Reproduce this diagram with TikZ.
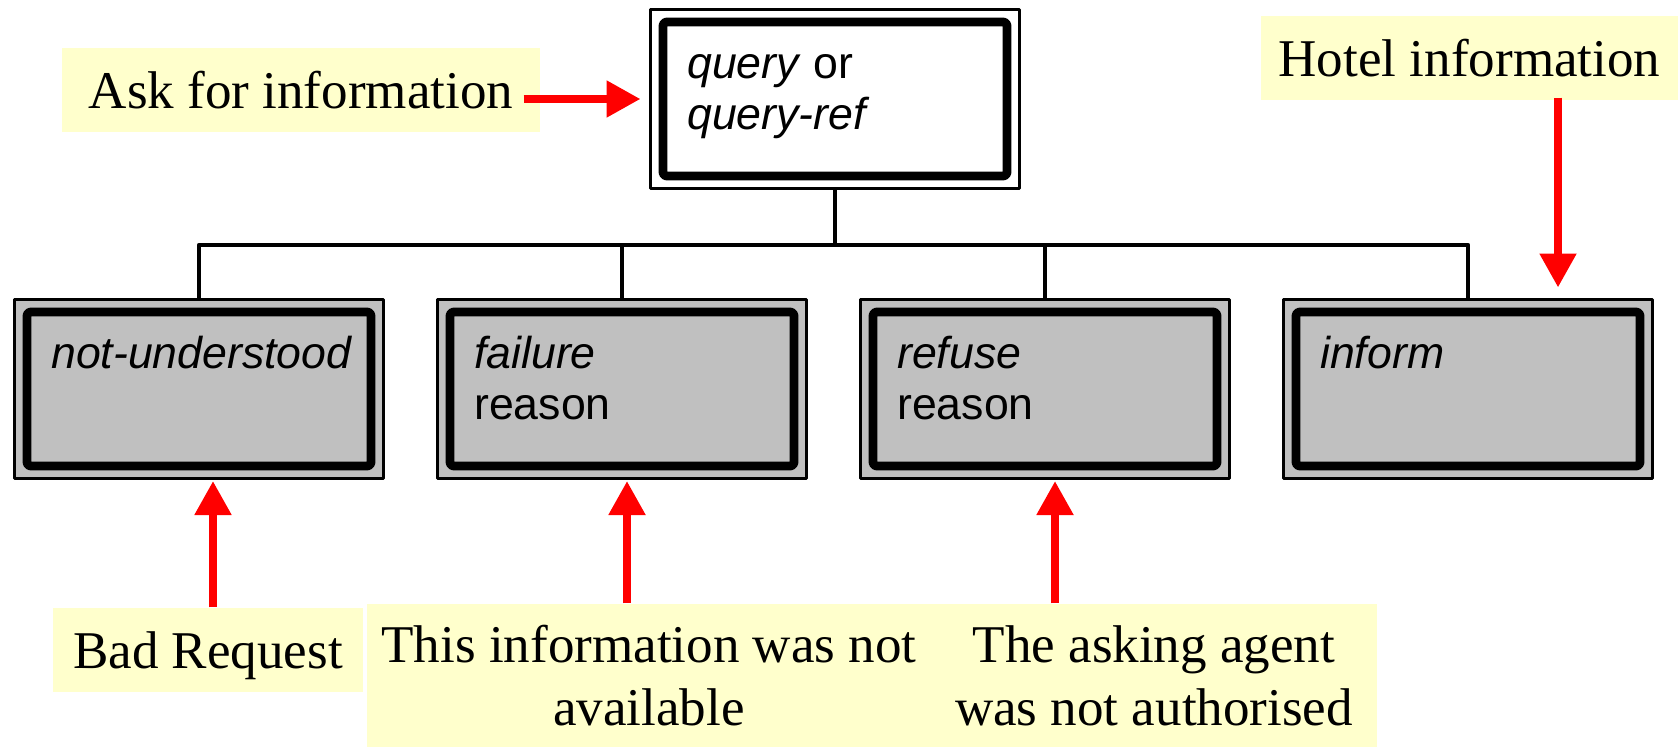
\documentclass[tikz,border=0pt]{standalone}
\usepackage{fontspec}
\setmainfont{Liberation Serif}
\setsansfont{Liberation Sans}
\usetikzlibrary{arrows.meta}
\definecolor{boxgray}{HTML}{C0C0C0}
\definecolor{notey}{HTML}{FFFFCC}
\tikzset{
  act/.style={draw,line width=1pt,outer sep=0pt,inner sep=0pt,minimum width=3.69cm,minimum height=1.79cm,fill=boxgray},
  acttext/.style={anchor=north west,inner sep=0pt,align=left,font=\sffamily\fontsize{12.7}{14.5}\selectfont},
  note/.style={fill=notey,inner sep=0pt,align=center,text depth=0pt,minimum height=0.84cm,font=\fontsize{15.1}{17.9}\selectfont},
  hint/.style={red,line width=2.3pt,-{Triangle[length=3.4mm,width=3.5mm]}},
  tree/.style={line width=1.2pt}
}
\begin{document}
\begin{tikzpicture}[line join=round]
\useasboundingbox (0,0) rectangle (16.78,7.47);
\node[act,fill=white] (query) at (8.35,6.48) {};
\node[act] (nu) at (1.99,3.58) {};
\node[act] (fail) at (6.22,3.58) {};
\node[act] (ref) at (10.45,3.58) {};
\node[act] (inf) at (14.68,3.58) {};
\foreach \b in {query,nu,fail,ref,inf}
  \draw[line width=2.5pt,rounded corners=1pt] ([shift={(1.25mm,-1.25mm)}]\b.north west) rectangle ([shift={(-1.25mm,1.25mm)}]\b.south east);
\node[acttext] (query-t) at ([shift={(0.36,-0.33)}]query.north west) {\strut\textit{query} or\\\textit{query-ref}};
\node[acttext] (nu-t) at ([shift={(0.36,-0.33)}]nu.north west) {\strut\textit{not-understood}};
\node[acttext] (fail-t) at ([shift={(0.36,-0.33)}]fail.north west) {\strut\textit{failure}\\reason};
\node[acttext] (ref-t) at ([shift={(0.36,-0.33)}]ref.north west) {\strut\textit{refuse}\\reason};
\node[acttext] (inf-t) at ([shift={(0.36,-0.33)}]inf.north west) {\strut\textit{inform}};
\coordinate (bar) at (0,5.02);
\draw[tree] (query.south) -- (query.south |- bar);
\foreach \b in {nu,fail,ref,inf}
  \draw[tree] (query.south |- bar) -| (\b.north);
\node[note,minimum width=4.78cm] (ask) at (3.01,6.57) {Ask for information};
\node[note,minimum width=4.17cm] (hotel) at (14.695,6.89) {Hotel information};
\node[note,minimum width=3.10cm] (bad) at (2.08,0.97) {Bad Request};
\node[note,minimum width=5.64cm,minimum height=1.43cm] (avail) at (6.49,0.715) {This information was not\\available};
\node[note,minimum width=4.46cm,minimum height=1.43cm] (auth) at (11.54,0.715) {The asking agent\\was not authorised};
\draw[hint] ([xshift=-1.7mm]query.west -| ask.east) -- ([xshift=-1mm]query.west);
\coordinate (hin) at ([xshift=9mm,yshift=1.2mm]inf.north);
\draw[hint] ([yshift=0.3mm]hotel.south -| hin) -- (hin);
\foreach \b/\n/\s in {nu/bad/1.4mm,fail/avail/0.5mm,ref/auth/1mm}
  \draw[hint] ([xshift=\s]\b.south |- \n.north) -- ([xshift=\s,yshift=-0.25mm]\b.south);
\end{tikzpicture}
\end{document}
